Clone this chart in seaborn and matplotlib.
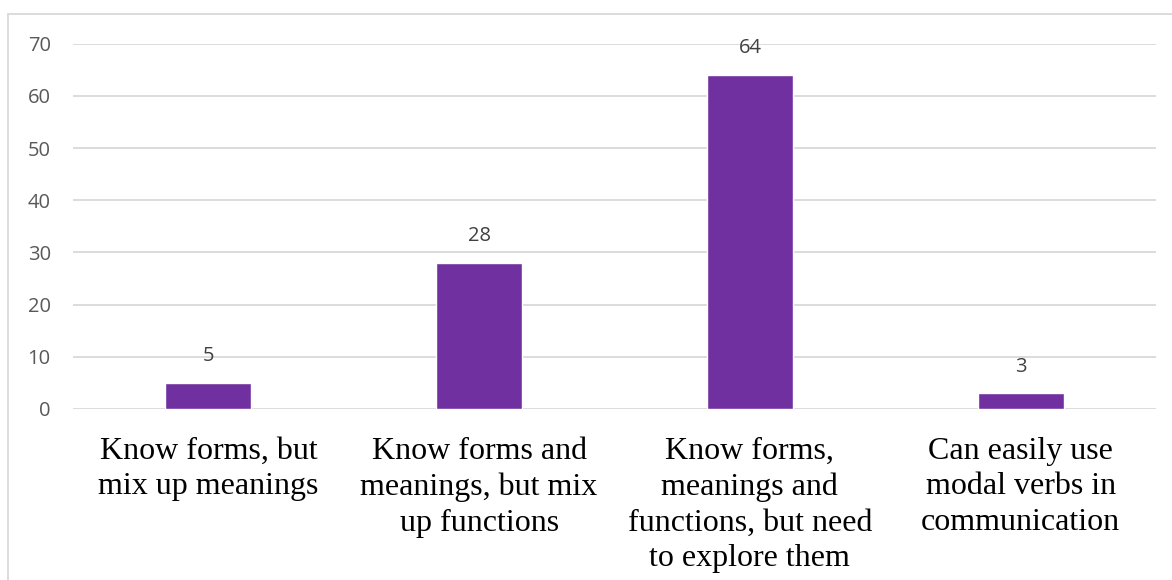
import matplotlib
matplotlib.use("Agg")
import matplotlib.pyplot as plt
import seaborn as sns
import pandas as pd
from matplotlib.patches import Rectangle

categories = [
    "Know forms, but\nmix up meanings",
    "Know forms and\nmeanings, but mix\nup functions",
    "Know forms,\nmeanings and\nfunctions, but need\nto explore them",
    "Can easily use\nmodal verbs in\ncommunication",
]
values = [5, 28, 64, 3]
yticks = [0, 10, 20, 30, 40, 50, 60, 70]

sns.set_theme(style="white")
plt.rcParams["font.family"] = ["Open Sans", "DejaVu Sans"]

df = pd.DataFrame({"category": categories, "value": values})

fig = plt.figure(figsize=(11.72, 5.80), dpi=100)
ax = fig.add_axes([73 / 1172, 1 - 409 / 580, (1156 - 73) / 1172, (409 - 43.7) / 580])

sns.barplot(data=df, x="category", y="value", color="#7030A0", saturation=1,
            width=0.317, ax=ax)

ax.set_ylim(0, 70)
ax.set_xlim(-0.5, len(categories) - 0.5)
ax.set_yticks(yticks)
ax.yaxis.grid(True, color="#D9D9D9", linewidth=1.3)
ax.set_axisbelow(True)
for s in ax.spines.values():
    s.set_visible(False)
ax.set_xlabel("")
ax.set_ylabel("")
ax.tick_params(axis="y", length=0, pad=16, labelsize=14.5, labelcolor="#595959")
ax.tick_params(axis="x", length=0, pad=20)
for lbl in ax.get_xticklabels():
    lbl.set_fontfamily("Liberation Serif")
    lbl.set_fontsize(23)
    lbl.set_color("black")
    lbl.set_linespacing(1.3)
    lbl.set_verticalalignment("top")

for c in ax.containers:
    ax.bar_label(c, labels=[str(v) for v in values], padding=12,
                 fontsize=14.5, color="#404040")

fig.patches.append(Rectangle((8 / 1172, -0.1), 1.2, 1 - 14 / 580 + 0.1,
                             transform=fig.transFigure, fill=False,
                             edgecolor="#D9D9D9", linewidth=1.3))

fig.savefig("out.png", dpi=100)
